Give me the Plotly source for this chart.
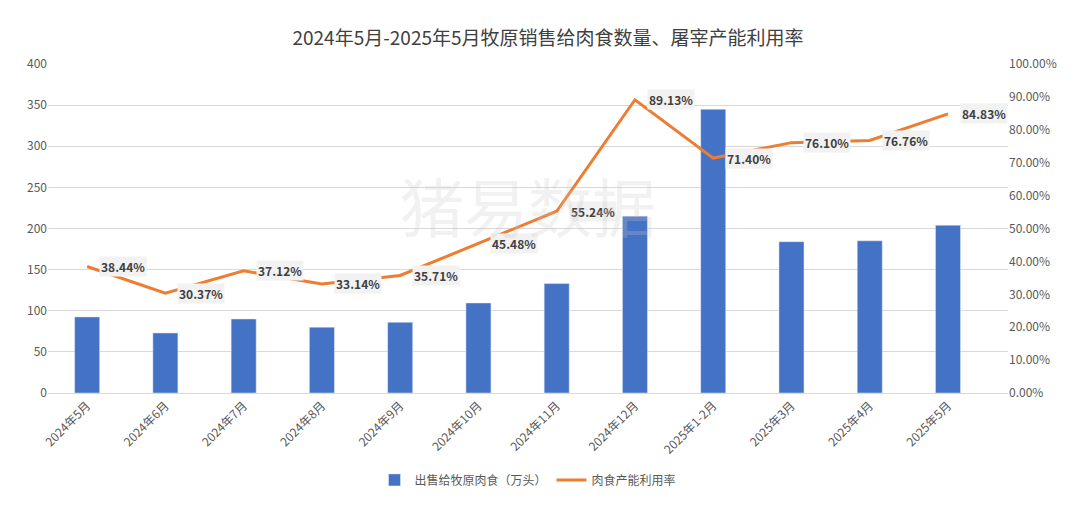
import plotly.graph_objects as go

months = ["2024年5月", "2024年6月", "2024年7月", "2024年8月", "2024年9月", "2024年10月",
          "2024年11月", "2024年12月", "2025年1-2月", "2025年3月", "2025年4月", "2025年5月"]
sales = [92.5, 73, 90, 80, 86, 109.5, 133, 215, 345, 184, 185, 204]
util = [0.3844, 0.3037, 0.3712, 0.3314, 0.3571, 0.4548, 0.5524, 0.8913, 0.7140, 0.7610, 0.7676, 0.8483]

font = "Noto Sans CJK SC"
fig = go.Figure()
fig.add_trace(go.Bar(x=months, y=sales, name="出售给牧原肉食（万头）", marker_color="#4472C4"))
fig.add_trace(go.Scatter(x=months, y=util, name="肉食产能利用率", yaxis="y2", mode="lines",
                         line=dict(color="#ED7D31", width=3)))

for m, u in zip(months, util):
    fig.add_annotation(x=m, y=u, yref="y2", text=f"<b>{u*100:.2f}%</b>", showarrow=False,
                       xshift=36, bgcolor="#F2F2F2", font=dict(size=12, color="#404040"))

fig.add_annotation(x=0.5, y=0.72, xref="paper", yref="paper", text="猪易数据", showarrow=False,
                   font=dict(size=64, color="rgba(200,200,200,0.25)", family=font))

fig.update_layout(
    width=1080, height=523,
    title=dict(text="2024年5月-2025年5月牧原销售给肉食数量、屠宰产能利用率", x=0.5, y=0.955,
               font=dict(size=19, color="#404040")),
    font=dict(family=font, size=12, color="#595959"),
    plot_bgcolor="white", paper_bgcolor="white",
    margin=dict(l=40, r=80, t=56, b=138),
    bargap=0.68,
    xaxis=dict(tickangle=-45, showline=True, linecolor="#D9D9D9", ticks=""),
    yaxis=dict(range=[0, 400], dtick=50, gridcolor="#D9D9D9", zeroline=False),
    yaxis2=dict(range=[0, 1], dtick=0.1, tickformat=".2%", overlaying="y", side="right",
                showgrid=False, zeroline=False),
    legend=dict(orientation="h", x=0.5, xanchor="center", y=-0.22, yanchor="top"),
)
fig.write_html("out.html")
